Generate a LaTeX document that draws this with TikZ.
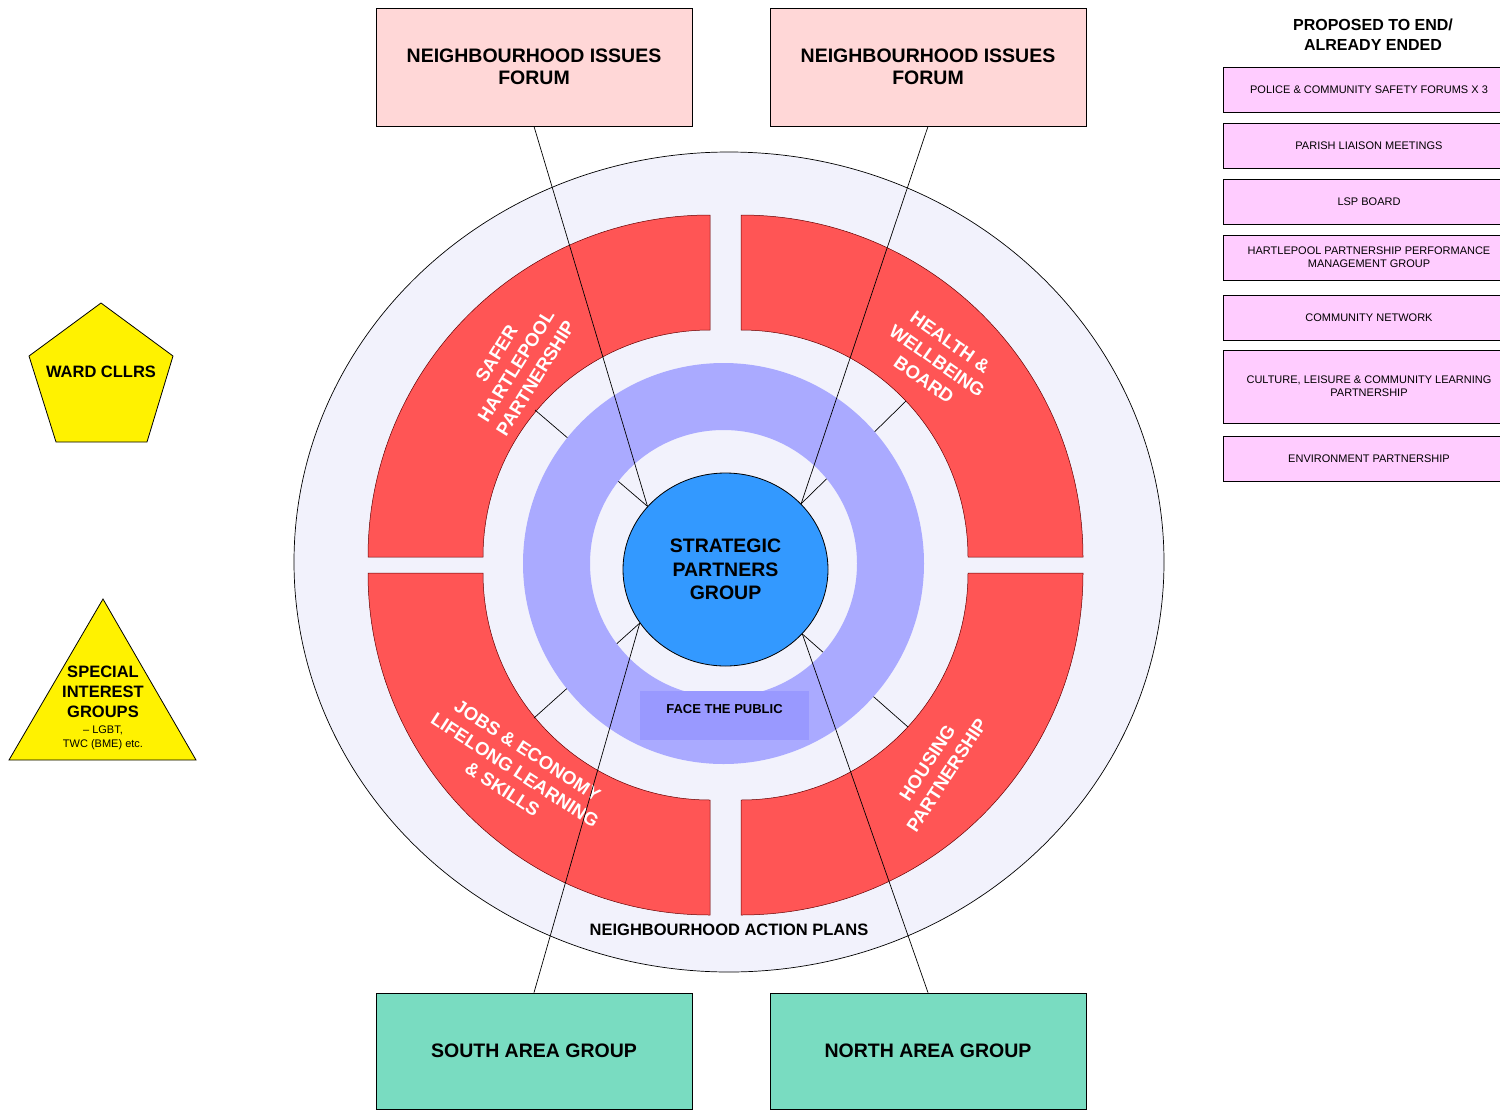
\documentclass[tikz,border=0pt]{standalone}
\usepackage{fontspec}
\setmainfont{Liberation Sans}
\usetikzlibrary{positioning, shapes.geometric}

\definecolor{forumpink}{HTML}{FFD7D7}
\definecolor{areagreen}{HTML}{79DCC1}
\definecolor{endedpink}{HTML}{FFCCFF}
\definecolor{wheelbg}{HTML}{F2F2FC}
\definecolor{partred}{HTML}{FF5555}
\definecolor{publicring}{HTML}{AAAAFF}
\definecolor{publicbox}{HTML}{9999FF}
\definecolor{spgblue}{HTML}{3399FF}

\tikzset{
	forum/.style={draw, line width=0.8pt, fill=forumpink, minimum width=316pt, minimum height=118pt,
		align=center, font=\fontsize{19.5}{22.5}\selectfont\bfseries},
	area/.style={forum, fill=areagreen, minimum height=116pt},
	ended/.style={draw, line width=0.8pt, fill=endedpink, minimum width=292pt, minimum height=45pt,
		align=center, font=\fontsize{11}{13}\selectfont},
	partner/.style={text=white, align=center, inner sep=0pt, font=\fontsize{18.5}{23}\selectfont\bfseries},
	wedge/.style={fill=partred, draw=red!40!black, line width=0.5pt},
	yellowshape/.style={fill=yellow, draw, line width=0.8pt},
	link/.style={draw, line width=0.7pt},
}

\begin{document}
\begin{tikzpicture}[x=1pt, y=-1pt]
		
		\useasboundingbox (0,0) rectangle (1500,1109);
		
		% the wheel
		\filldraw[fill=wheelbg, line width=0.7pt] (729,562) ellipse [x radius=435pt, y radius=410pt];
		\foreach \cx/\cy/\a in {710/557/90, 741/557/0, 710/573/180, 741/573/270}
		\path[wedge] (\cx,\cy) ++(\a:342pt) arc[start angle=\a, delta angle=90, radius=342pt]
		-- ++({\a+270}:115pt) arc[start angle={\a+90}, delta angle=-90, radius=227pt] -- cycle;
		
		\node[ellipse, draw, line width=0.8pt, fill=spgblue, minimum width=205pt, minimum height=193pt,
		inner sep=0pt, align=center, font=\fontsize{19.5}{23.5}\selectfont\bfseries]
		(spg) at (725.5,569.5) {STRATEGIC\\PARTNERS\\GROUP};
		
		\coordinate (shpin) at (535,410);
		\coordinate (hwbin) at (906,401);
		\coordinate (jelin) at (534,718);
		\coordinate (hspin) at (908,727);
		\draw[link] (spg.141) -- (shpin);
		\draw[link] (spg.41) -- (hwbin);
		\draw[link] (spg.212) -- (jelin);
		\draw[link] (spg.320) -- (hspin);
		
		% face the public ring goes over the spokes
		\fill[publicring, even odd rule] (723.5,563.5) circle[radius=200.5pt] (723.5,563.5) circle[radius=133.5pt];
		\node[fill=publicbox, anchor=north, inner sep=0pt, minimum width=169pt, text height=22.5pt, text depth=26.5pt,
		font=\fontsize{13}{15}\selectfont\bfseries] (ftp) at (724.5,691) {FACE THE PUBLIC};
		
		\node[partner, rotate=58] (shp) at (516,366) {SAFER\\HARTLEPOOL\\PARTNERSHIP};
		\node[partner, rotate=-35] (hwb) at (937,361) {HEALTH \&\\WELLBEING\\BOARD};
		\node[partner, rotate=-33] (jel) at (515,770) {JOBS \& ECONOMY\\LIFELONG LEARNING\\\& SKILLS};
		\node[partner, rotate=57] (hsp) at (937,769) {HOUSING\\PARTNERSHIP};
		
		\node[font=\fontsize{16.5}{19}\selectfont\bfseries] (nap) at (729,930) {NEIGHBOURHOOD ACTION PLANS};
		
		% forums and area groups
		\node[forum] (nif1) at (534,67) {NEIGHBOURHOOD ISSUES\\FORUM};
		\node[forum] (nif2) at (928,67) {NEIGHBOURHOOD ISSUES\\FORUM};
		\node[area] (sag) at (534,1051) {SOUTH AREA GROUP};
		\node[area] (nag) at (928,1051) {NORTH AREA GROUP};
		
		\draw[link] (nif1.south) -- (spg.141);
		\draw[link] (nif2.south) -- (spg.41);
		\draw[link] (sag.north) -- (spg.212);
		\draw[link] (nag.north) -- (spg.320);
		
		% left hand side
		\draw[yellowshape] (101,303) -- (173,356) -- (147,442) -- (56,442) -- (29,356) -- cycle;
		\node[font=\fontsize{16.5}{19}\selectfont\bfseries] (ward) at (101,372) {WARD CLLRS};
		\draw[yellowshape] (103,599) -- (196,760) -- (9,760) -- cycle;
		\node[align=center, inner sep=0pt, font=\fontsize{16.5}{20}\selectfont\bfseries] (sig) at (103,692) {SPECIAL\\INTEREST\\GROUPS};
		\node[align=center, inner sep=0pt, below=7.5pt of sig, font=\fontsize{11}{14.5}\selectfont] (signote) {\textendash\ LGBT,\\TWC (BME) etc.};
		
		% right hand side
		\node[align=center, font=\fontsize{16}{20}\selectfont\bfseries] (ended) at (1373,35) {PROPOSED TO END/\\ALREADY ENDED};
		\node[ended] (pcsf) at (1369,89.5) {POLICE \& COMMUNITY SAFETY FORUMS X 3};
		\node[ended] (plm) at (1369,145.5) {PARISH LIAISON MEETINGS};
		\node[ended] (lsp) at (1369,201.5) {LSP BOARD};
		\node[ended] (hppm) at (1369,257.5) {HARTLEPOOL PARTNERSHIP PERFORMANCE\\MANAGEMENT GROUP};
		\node[ended] (cn) at (1369,317.5) {COMMUNITY NETWORK};
		\node[ended, minimum height=73pt] (clcl) at (1369,386.5) {CULTURE, LEISURE \& COMMUNITY LEARNING\\PARTNERSHIP};
		\node[ended] (env) at (1369,458.5) {ENVIRONMENT PARTNERSHIP};
		
\end{tikzpicture}
\end{document}
